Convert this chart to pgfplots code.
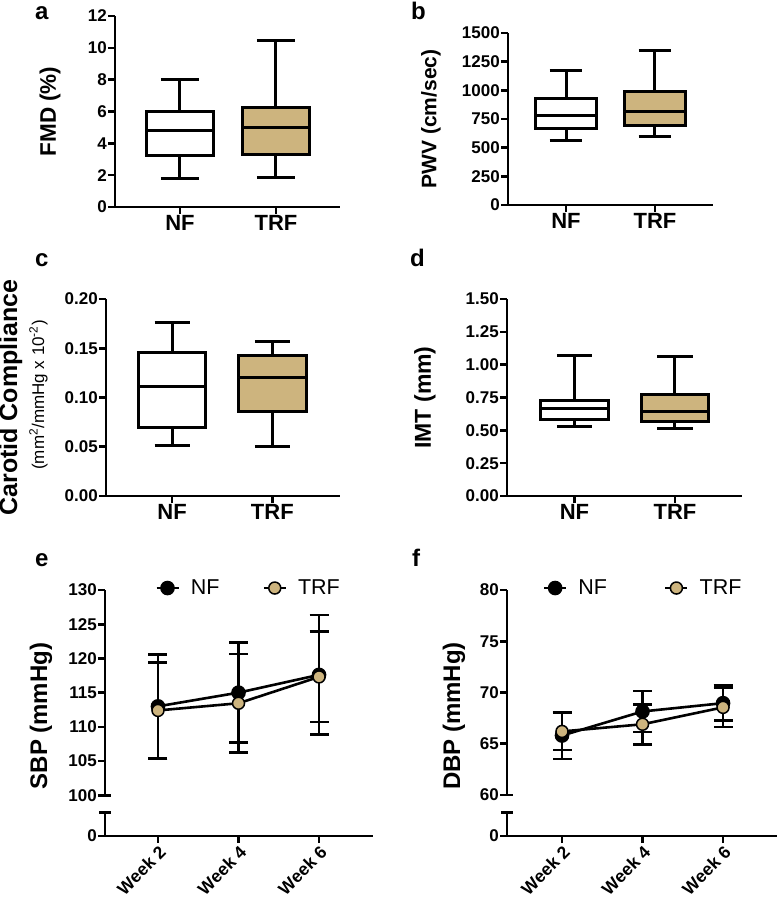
\documentclass[border=0pt]{standalone}
\usepackage{fontspec}
\setmainfont{Liberation Sans}
\usepackage{pgfplots}
\pgfplotsset{compat=1.18}
\usepgfplotslibrary{statistics}
\definecolor{trf}{RGB}{205,180,126}
\newcommand{\fs}[1]{\fontsize{#1}{#1}\selectfont}
\tikzset{brk/.style={line width=2.6pt, black}}

\pgfplotsset{
  prism/.style={
    scale only axis, clip=false,
    axis x line*=bottom, axis y line*=left,
    axis line style={line width=2.6pt,-},
    tick style={line width=2.6pt,black},
    major tick length=7pt, tick align=outside,
    /pgf/number format/assume math mode=true,
    /pgf/number format/1000 sep={},
    scaled y ticks=false,
    boxplot/draw direction=y,
    yticklabel style={font=\fs{17}\bfseries,inner sep=1pt},
    xticklabel style={font=\fs{22}\bfseries,inner sep=1pt},
    xtick={1,2}, xticklabels={NF,TRF},
  },
  bx/.style={boxplot prepared={#1}, draw=black, line width=3pt, solid, mark=none},
  bp/.style={
    line width=2.6pt, black,
    error bars/y dir=both, error bars/y explicit,
    error bars/error bar style={line width=2.6pt,black},
    error bars/error mark options={rotate=90,line width=2.6pt,black,mark size=9.5pt},
  },
  leg/.style={
    legend style={draw=none, fill=none, inner sep=0pt, font=\fs{21.5},
      legend columns=2, nodes={inner sep=0pt},
      /tikz/every odd column/.append style={column sep=11pt}},
    legend image code/.code={\draw[mark repeat=2,mark phase=2,##1] plot coordinates {(0pt,0pt) (11pt,0pt) (22pt,0pt)};},
  },
  week/.style={
    y axis line style={draw=none},
    every outer y axis line/.append style={draw=none},
    xtick={1,2,3}, xticklabels={Week 2,Week 4,Week 6},
    xticklabel style={rotate=45, anchor=north east, font=\fs{17.5}\bfseries},
  },
}

\begin{document}
\begin{tikzpicture}
\path[use as bounding box] (0,0) rectangle (777pt,900pt);

% ---- a: FMD
\begin{axis}[prism, at={(115pt,693pt)}, anchor=south west,
  width=225pt, height=191pt, xmin=0.323, xmax=2.667, ymin=0, ymax=12,
  ytick={0,2,...,12}, boxplot/box extend=0.69, boxplot/whisker extend=0.4]
\addplot[bx={draw position=1, lower whisker=1.78, lower quartile=3.25, median=4.78, upper quartile=6.02, upper whisker=8.03}, fill=white] coordinates {};
\addplot[bx={draw position=2, lower whisker=1.85, lower quartile=3.3, median=4.97, upper quartile=6.27, upper whisker=10.45}, fill=trf] coordinates {};
\end{axis}

% ---- b: PWV
\begin{axis}[prism, at={(508pt,695pt)}, anchor=south west,
  width=205pt, height=172pt, xmin=0.348, xmax=2.652, ymin=0, ymax=1500,
  ytick={0,250,...,1500}, boxplot/box extend=0.68, boxplot/whisker extend=0.37]
\addplot[bx={draw position=1, lower whisker=565, lower quartile=667, median=778, upper quartile=926, upper whisker=1177}, fill=white] coordinates {};
\addplot[bx={draw position=2, lower whisker=594, lower quartile=696, median=813, upper quartile=994, upper whisker=1349}, fill=trf] coordinates {};
\end{axis}

% ---- c: carotid compliance
\begin{axis}[prism, at={(106pt,404pt)}, anchor=south west,
  width=234pt, height=197pt, xmin=0.34, xmax=2.675, ymin=0, ymax=0.2,
  ytick={0,0.05,0.1,0.15,0.2},
  yticklabel style={/pgf/number format/.cd, fixed, fixed zerofill, precision=2},
  boxplot/box extend=0.675, boxplot/whisker extend=0.35]
\addplot[bx={draw position=1, lower whisker=0.051, lower quartile=0.070, median=0.111, upper quartile=0.146, upper whisker=0.176}, fill=white] coordinates {};
\addplot[bx={draw position=2, lower whisker=0.050, lower quartile=0.0856, median=0.120, upper quartile=0.143, upper whisker=0.157}, fill=trf] coordinates {};
\end{axis}

% ---- d: IMT
\begin{axis}[prism, at={(507pt,404pt)}, anchor=south west,
  width=235pt, height=197pt, xmin=0.328, xmax=2.667, ymin=0, ymax=1.5,
  ytick={0,0.25,...,1.5},
  yticklabel style={/pgf/number format/.cd, fixed, fixed zerofill, precision=2},
  boxplot/box extend=0.67, boxplot/whisker extend=0.35]
\addplot[bx={draw position=1, lower whisker=0.531, lower quartile=0.580, median=0.666, upper quartile=0.727, upper whisker=1.073}, fill=white] coordinates {};
\addplot[bx={draw position=2, lower whisker=0.511, lower quartile=0.567, median=0.646, upper quartile=0.775, upper whisker=1.060}, fill=trf] coordinates {};
\end{axis}

% ---- e: SBP (broken y axis: the 0 tick sits at 94.05)
\begin{axis}[prism, leg, week, at={(105pt,64pt)}, anchor=south west,
  width=268pt, height=246pt, xmin=0.342, xmax=3.67, ymin=94.05, ymax=130,
  ytick={94.05,100,105,...,130}, yticklabels={0,100,105,110,115,120,125,130},
  legend style={at={(axis description cs:0.1866,1.008)}, anchor=west,
    /tikz/every even column/.append style={column sep=43pt}}]
\draw[brk] (axis cs:0.342,100) -- (axis cs:0.342,130);
\draw[brk] (axis cs:0.342,94.05) -- (axis cs:0.342,97.46);
\draw[brk] (axis cs:0.342,100) -- ([xshift=6pt]axis cs:0.342,100);
\draw[brk] ([xshift=-6pt]axis cs:0.342,97.46) -- ([xshift=6pt]axis cs:0.342,97.46);
\addplot[bp, mark=*, mark size=6pt, mark options={fill=black,draw=black}]
  coordinates {(1,113.0) +- (0,7.6) (2,115.0) +- (0,7.3) (3,117.6) +- (0,8.75)};
\addlegendentry{NF}
\addplot[bp, mark=*, mark size=6pt, mark options={fill=trf,draw=black,line width=1.5pt}]
  coordinates {(1,112.4) +- (0,7.0) (2,113.45) +- (0,7.2) (3,117.3) +- (0,6.6)};
\addlegendentry{TRF}
\end{axis}

% ---- f: DBP (broken y axis: the 0 tick sits at 56)
\begin{axis}[prism, leg, week, at={(507pt,64pt)}, anchor=south west,
  width=270pt, height=246pt, xmin=0.317, xmax=3.67, ymin=56, ymax=80,
  ytick={56,60,65,...,80}, yticklabels={0,60,65,70,75,80},
  legend style={at={(axis description cs:0.132,1.008)}, anchor=west,
    /tikz/every even column/.append style={column sep=57pt}}]
\draw[brk] (axis cs:0.317,60) -- (axis cs:0.317,80);
\draw[brk] (axis cs:0.317,56) -- (axis cs:0.317,58.27);
\draw[brk] (axis cs:0.317,60) -- ([xshift=6pt]axis cs:0.317,60);
\draw[brk] ([xshift=-6pt]axis cs:0.317,58.27) -- ([xshift=6pt]axis cs:0.317,58.27);
\addplot[bp, mark=*, mark size=6pt, mark options={fill=black,draw=black}]
  coordinates {(1,65.8) +- (0,2.3) (2,68.15) +- (0,2.0) (3,68.96) +- (0,1.7)};
\addlegendentry{NF}
\addplot[bp, mark=*, mark size=6pt, mark options={fill=trf,draw=black,line width=1.5pt}]
  coordinates {(1,66.2) +- (0,1.8) (2,66.9) +- (0,1.95) (3,68.55) +- (0,1.9)};
\addlegendentry{TRF}
\end{axis}

% ---- axis titles and panel letters
\node[rotate=90, font=\fs{22.5}\bfseries] at (50pt,788.5pt) {FMD (\%)};
\node[rotate=90, font=\fs{21}\bfseries] at (431pt,781pt) {PWV (cm/sec)};
\node[rotate=90, font=\fs{25}\bfseries, anchor=base] at (17pt,502.5pt) {Carotid Compliance};
\node[rotate=90, font=\fs{17}, anchor=base] at (44pt,505pt) {(mm\textsuperscript{2}/mmHg x 10\textsuperscript{-2})};
\node[rotate=90, font=\fs{23}\bfseries] at (425pt,502.5pt) {IMT (mm)};
\node[rotate=90, font=\fs{24}\bfseries] at (41pt,184pt) {SBP (mmHg)};
\node[rotate=90, font=\fs{24}\bfseries] at (454pt,184pt) {DBP (mmHg)};

\node[anchor=base west, font=\fs{24}\bfseries, inner sep=0pt] at (35pt,880pt) {a};
\node[anchor=base west, font=\fs{24}\bfseries, inner sep=0pt] at (411pt,880pt) {b};
\node[anchor=base west, font=\fs{24}\bfseries, inner sep=0pt] at (35pt,633pt) {c};
\node[anchor=base west, font=\fs{24}\bfseries, inner sep=0pt] at (410pt,633pt) {d};
\node[anchor=base west, font=\fs{24}\bfseries, inner sep=0pt] at (35pt,333pt) {e};
\node[anchor=base west, font=\fs{24}\bfseries, inner sep=0pt] at (412pt,333pt) {f};
\end{tikzpicture}
\end{document}
